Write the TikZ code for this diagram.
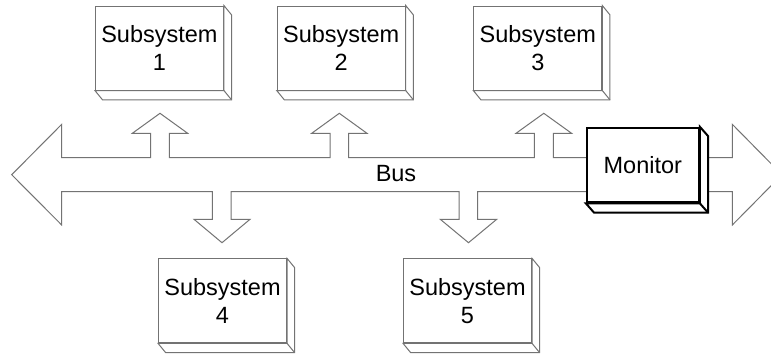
\documentclass[tikz,border=0pt]{standalone}
\usepackage{fontspec}
\setmainfont{Liberation Sans}
\begin{document}
\begin{tikzpicture}[x=1pt,y=-1pt,
  line join=miter,
  busline/.style={draw=black!55, line width=1pt, fill=white},
  subbox/.style={draw=black!55, line width=1pt, fill=white, inner sep=0pt,
    minimum width=128pt, minimum height=84pt, align=center,
    font=\fontsize{23.5}{28.3}\selectfont},
  subside/.style={draw=black!55, line width=1pt, fill=white},
  monbox/.style={draw=black, line width=2pt, fill=white, inner sep=0pt,
    minimum width=112pt, minimum height=74.6pt,
    font=\fontsize{23.5}{28.3}\selectfont},
  monside/.style={draw=black, line width=2pt, fill=white},
  buslabel/.style={inner sep=0pt, font=\fontsize{23.5}{28.3}\selectfont}]
\useasboundingbox (0,0) rectangle (771,354);
\clip (0,0) rectangle (771,354);

% the bus: double-headed arrow with branch arrows to the subsystems
\draw[busline] (11.7,174.7) -- (61.7,124.3) -- (61.7,157.7)
  -- (150.7,157.7) -- (150.7,133.3) -- (132.3,133.3) -- (160,113.3) -- (187.7,133.3) -- (169.3,133.3) -- (169.3,157.7)
  -- (330,157.7) -- (330,133.3) -- (311.7,133.3) -- (339.3,113.3) -- (367,133.3) -- (348.7,133.3) -- (348.7,157.7)
  -- (534.3,157.7) -- (534.3,133.3) -- (516,133.3) -- (543.8,113.3) -- (571.6,133.3) -- (553.3,133.3) -- (553.3,157.7)
  -- (732.3,157.7) -- (732.3,124.3) -- (782,174.7) -- (732.3,225) -- (732.3,191.7)
  -- (477.7,191.7) -- (477.7,219.3) -- (496.7,219.3) -- (468.5,242.7) -- (440.3,219.3) -- (459,219.3) -- (459,191.7)
  -- (231,191.7) -- (231,219.3) -- (250,219.3) -- (222,242.7) -- (194,219.3) -- (212.3,219.3) -- (212.3,191.7)
  -- (61.7,191.7) -- (61.7,225) -- cycle;

\node[buslabel] (bus) at (396,173.5) {Bus};

% subsystems
\node[subbox] (s1) at (159.4,48) {Subsystem\\1};
\node[subbox] (s2) at (341.2,48) {Subsystem\\2};
\node[subbox] (s3) at (537.8,48) {Subsystem\\3};
\node[subbox] (s4) at (222.5,300.8) {Subsystem\\4};
\node[subbox] (s5) at (467.5,300.8) {Subsystem\\5};

% bevelled sides of the subsystem blocks
\foreach \b in {s1,s2,s3,s4,s5} {
  \draw[subside] (\b.north east) -- ++(7.6,9.3) -- ([shift={(7.6,9.3)}]\b.south east)
    -- ([shift={(7.6,9.3)}]\b.south west) -- (\b.south west) -- (\b.south east) -- cycle;
  \draw[subside] (\b.south east) -- ++(7.6,9.3);
}

% monitor on the bus
\node[monbox] (mon) at (642.8,165) {Monitor};
\draw[monside] (mon.north east) -- ++(8.3,9.4) -- ([shift={(8.3,9.4)}]mon.south east)
  -- ([shift={(8.3,9.4)}]mon.south west) -- (mon.south west) -- (mon.south east) -- cycle;
\draw[monside] (mon.south east) -- ++(8.3,9.4);
\end{tikzpicture}
\end{document}
